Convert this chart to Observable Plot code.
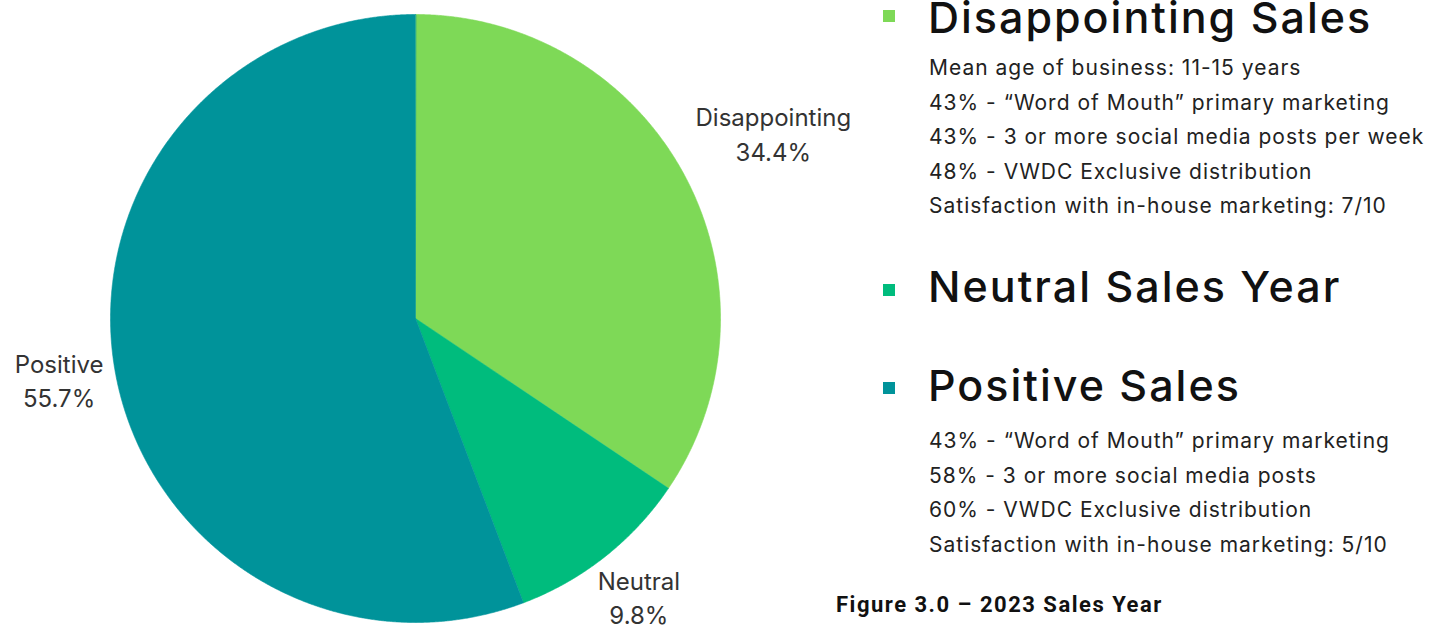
<!DOCTYPE html>
<html>
<head>
<meta charset="utf-8">
<script src="https://cdn.jsdelivr.net/npm/d3@7"></script>
<script src="https://cdn.jsdelivr.net/npm/@observablehq/plot@0.6"></script>
<style>
  html, body { margin: 0; padding: 0; background: #fff; }
  #wrap { position: relative; width: 1436px; height: 631px; overflow: hidden; }
  #chart { position: absolute; left: 0; top: 0; }
  .lg { position: absolute; font-family: Inter, "Open Sans", sans-serif; color: #111; white-space: nowrap; }
  .head { font-size: 43px; font-weight: 500; letter-spacing: 2px; line-height: 34px; }
  .note { font-size: 21px; font-weight: 400; color: #222; letter-spacing: 1px; line-height: 26px; }
  .sw { position: absolute; width: 12px; height: 12px; }
  #caption { position: absolute; left: 836px; font-family: Roboto, "Liberation Sans", sans-serif; font-weight: 700; font-size: 22px; letter-spacing: 1.5px; color: #111; white-space: nowrap; line-height: 26px; }
</style>
</head>
<body>
<div id="wrap"><div id="chart"></div></div>
<script>
// ---- data ----
const categories = ["Disappointing", "Neutral", "Positive"];
const shares = [34.4, 9.8, 55.7];
const shareLabels = ["34.4%", "9.8%", "55.7%"];
const sliceColors = ["#7ED957", "#00BC7D", "#00939A"];

const legendTitles = ["Disappointing Sales", "Neutral Sales Year", "Positive Sales"];
const disappointingNotes = [
  "Mean age of business: 11-15 years",
  "43%  - \u201cWord of Mouth\u201d primary marketing",
  "43% - 3 or more social media posts per week",
  "48% - VWDC Exclusive distribution",
  "Satisfaction with in-house marketing: 7/10"
];
const neutralNotes = [];
const positiveNotes = [
  "43% - \u201cWord of Mouth\u201d primary marketing",
  "58% - 3 or more social media posts",
  "60% - VWDC Exclusive distribution",
  "Satisfaction with in-house marketing: 5/10"
];
const captionText = "Figure 3.0 \u2013 2023 Sales Year";

// ---- pie geometry (derived from shares) ----
const W = 1436, H = 631;
const xRange = [110, 720], yRange = [622, 14];
const R = (xRange[1] - xRange[0]) / 2;       // px per unit radius
const cyPx = (yRange[0] + yRange[1]) / 2;     // pie centre in px
const arcs = d3.pie().sort(null).value(d => d)(shares);
const slicePts = [];
arcs.forEach((a, i) => {
  slicePts.push({cat: categories[i], x: 0, y: 0});
  const n = Math.max(2, Math.ceil((a.endAngle - a.startAngle) / 0.004));
  for (let k = 0; k <= n; k++) {
    const t = a.startAngle + (a.endAngle - a.startAngle) * k / n;
    slicePts.push({cat: categories[i], x: Math.sin(t), y: Math.cos(t)});
  }
});

const labelFont = "Inter, 'Open Sans', sans-serif";
const fs = 24, lh = 1.42;
const ctx = document.createElement("canvas").getContext("2d");
ctx.font = fs + "px Inter";
const clamp = (v, hi = 1) => Math.max(0, Math.min(hi, v));
const labelRows = arcs.map((a, i) => {
  const m = (a.startAngle + a.endAngle) / 2;
  const s = Math.sin(m), c = Math.cos(m);
  const w = Math.max(ctx.measureText(categories[i]).width, ctx.measureText(shareLabels[i]).width);
  const h = fs * lh * 2;
  const hx = Math.sign(s) * clamp((Math.abs(s) - 0.3) / 0.5);
  const hy = Math.sign(c) * clamp((Math.abs(c) - 0.15) / 0.25, 1.1);
  // keep the label block inside the frame
  const yMin = (cyPx - (H - h / 2)) / R;
  return {
    text: categories[i] + "\n" + shareLabels[i],
    x: 1.04 * s + hx * (w / 2) / R,
    y: Math.max(yMin, 1.04 * c + hy * (h / 2) / R)
  };
});

const plot = Plot.plot({
  width: W,
  height: H,
  margin: 0,
  x: {domain: [-1, 1], range: xRange, axis: null},
  y: {domain: [-1, 1], range: yRange, axis: null},
  color: {domain: categories, range: sliceColors},
  style: {background: "transparent"},
  marks: [
    Plot.line(slicePts, {x: "x", y: "y", z: "cat", fill: "cat", stroke: "cat", strokeWidth: 0.6, curve: "linear-closed"}),
    Plot.text(labelRows, {x: "x", y: "y", text: "text", fontSize: fs, lineHeight: lh, fill: "#333", fontFamily: labelFont})
  ]
});
document.getElementById("chart").appendChild(plot);

// ---- legend / annotation block ----
const wrap = document.getElementById("wrap");
function add(cls, text, left, top) {
  const d = document.createElement("div");
  d.className = cls; d.textContent = text;
  d.style.left = left + "px"; d.style.top = top + "px";
  wrap.appendChild(d); return d;
}
function swatch(color, top) {
  const d = document.createElement("div");
  d.className = "sw"; d.style.background = color;
  d.style.left = "883px"; d.style.top = top + "px";
  wrap.appendChild(d);
}
const headTops = [0, 269, 368];
const notesList = [disappointingNotes, neutralNotes, positiveNotes];
const notesTop = [55, 0, 428];
const swTops = [10, 284, 382];
legendTitles.forEach((t, i) => {
  swatch(sliceColors[i], swTops[i]);
  add("lg head", t, 928, headTops[i]);
  notesList[i].forEach((n, j) => add("lg note", n, 929, notesTop[i] + j * 34.5));
});
const cap = document.createElement("div");
cap.id = "caption"; cap.textContent = captionText; cap.style.top = "592px";
wrap.appendChild(cap);
</script>
</body>
</html>
